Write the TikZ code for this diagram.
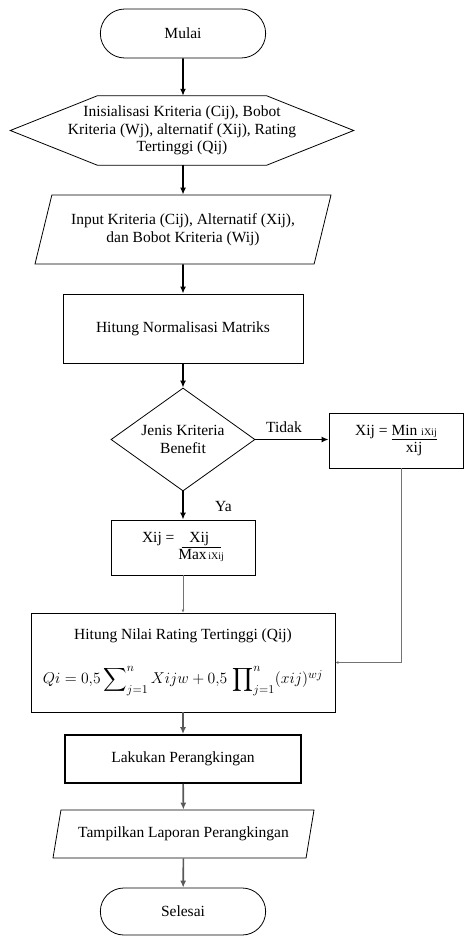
\documentclass[tikz,border=0pt]{standalone}
\usepackage{fontspec}
\setmainfont{Liberation Serif}
\usepackage{graphicx}
\usetikzlibrary{positioning,shapes.misc,shapes.geometric,arrows.meta}

\newcommand{\smalltxt}[1]{{\fontsize{10}{12}\selectfont #1}}
\newcommand{\bigop}[1]{\mathop{\vcenter{\hbox{\scalebox{1.5}{$\displaystyle#1$}}}}\nolimits}

\begin{document}
\begin{tikzpicture}[
    x=1pt, y=1pt,
    every node/.style={font=\fontsize{15.5}{17.5}\selectfont},
    terminal/.style={rounded rectangle, draw, line width=0.8pt, minimum width=172pt, minimum height=49pt},
    prep/.style={rectangle, minimum width=343pt, minimum height=69pt, align=center, inner sep=0pt},
    io/.style={trapezium, trapezium stretches body, draw, line width=0.8pt, align=center, inner sep=0pt},
    process/.style={rectangle, draw, line width=0.8pt, align=center},
    decision/.style={diamond, aspect=1.4, draw, line width=0.8pt, minimum width=144pt, minimum height=103pt, align=center, inner sep=0pt},
    arrow/.style={-{Latex[length=7pt,width=6pt]}, line width=1.6pt},
    grayarrow/.style={arrow, draw=black!65, fill=black!65},
    thinarrow/.style={-{Latex[length=3pt,width=3pt]}, line width=0.6pt, draw=black!55}
]
    \useasboundingbox (0,0) rectangle (464,-936);

    \node[terminal] (start) at (183,-33.5) {Mulai};
    \node[prep] (init) at (182,-130.5) {Inisialisasi Kriteria (Cij), Bobot\\Kriteria (Wj), alternatif (Xij), Rating\\Tertinggi (Qij)};
    \draw[line width=0.8pt] (init.west) -- ([xshift=87pt]init.north west) -- ([xshift=-87pt]init.north east)
        -- (init.east) -- ([xshift=-87pt]init.south east) -- ([xshift=87pt]init.south west) -- cycle;
    \node[io, trapezium left angle=62, trapezium right angle=118, minimum width=296pt, minimum height=69pt] (input) at (183,-229.5) {Input Kriteria (Cij), Alternatif (Xij),\\dan Bobot Kriteria (Wij)};
    \node[process, minimum width=240pt, minimum height=69pt] (norm) at (183,-328.5) {Hitung Normalisasi Matriks};
    \node[decision] (dec) at (183,-439.5) {Jenis Kriteria\\Benefit};
    \node[process, minimum width=134pt, minimum height=55pt] (minbox) at (396,-440.5) {Xij = \begin{tabular}[t]{@{}c@{}}\underline{Min \smalltxt{iXij}}\\xij\end{tabular}};
    \node[process, minimum width=144pt, minimum height=55pt] (maxbox) at (183,-547.5) {Xij = \begin{tabular}[t]{@{}c@{}}\underline{\ \ Xij\ \ \ }\\Max\smalltxt{\,iXij}\end{tabular}};
    \node[process, minimum width=304pt, minimum height=99pt] (rating) at (183,-662.5) {Hitung Nilai Rating Tertinggi (Qij)\\[22pt]
        \resizebox{280pt}{!}{$Qi = 0{,}5\bigop{\sum}_{j=1}^{n} Xijw + 0{,}5\,\bigop{\prod}_{j=1}^{n}(xij)^{wj}$}};
    \node[process, minimum width=236pt, minimum height=48pt, line width=1.8pt] (rank) at (183,-759) {Lakukan Perangkingan};
    \node[io, trapezium left angle=60.6, trapezium right angle=119.4, minimum width=261pt, minimum height=48pt] (output) at (183.5,-834) {Tampilkan Laporan Perangkingan};
    \node[terminal, minimum height=47pt] (stop) at (183,-911.5) {Selesai};

    \draw[arrow] (start) -- (start |- init.north);
    \draw[arrow] (init.south -| input) -- (input);
    \draw[arrow] (input) -- (norm);
    \draw[arrow] (norm) -- (dec);
    \draw[arrow] (dec.east) -- node[above=3pt, pos=0.39] {Tidak} (minbox.west |- dec.east);
    \draw[arrow] (dec.south) -- node[right=28pt, pos=0.55] {Ya} (maxbox.north);
    \draw[thinarrow] (maxbox) -- (rating);
    \draw[thinarrow] ([xshift=5pt]minbox.south) |- (rating.east);
    \draw[grayarrow] (rating) -- (rank);
    \draw[grayarrow] (rank) -- (output);
    \draw[grayarrow] (output) -- (stop);
\end{tikzpicture}
\end{document}
